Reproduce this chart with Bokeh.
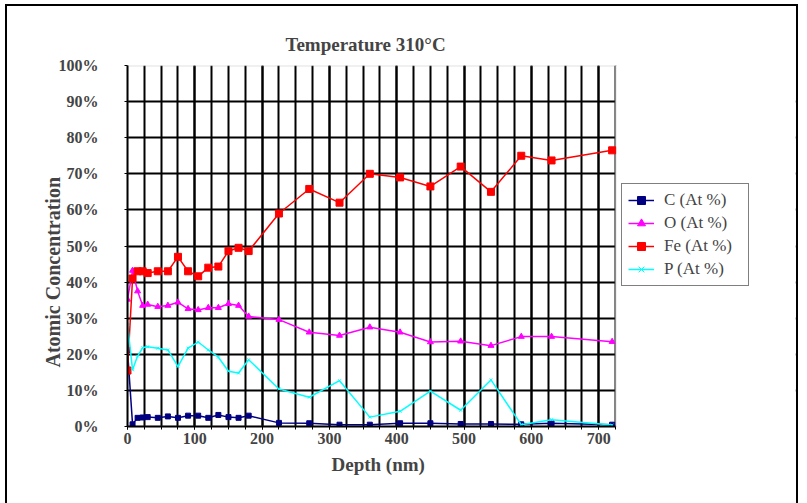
from bokeh.plotting import figure
from bokeh.models import (Range1d, SingleIntervalTicker, FixedTicker, PrintfTickFormatter,
                          Legend, LegendItem, BoxAnnotation, Title)
from bokeh.embed import file_html
from bokeh.resources import INLINE

# ---- data ----
depth = [0, 7.5, 15, 22.5, 30, 45, 60, 75, 90, 105, 120, 135, 150, 165, 180,
         225, 270, 315, 360, 405, 450, 495, 540, 585, 630, 720]
c_at = [21.2, 0.6, 2.4, 2.5, 2.6, 2.4, 2.8, 2.4, 3.0, 3.0, 2.4, 3.2, 2.6, 2.4, 3.0,
        1.0, 0.9, 0.5, 0.5, 0.9, 0.9, 0.7, 0.7, 0.6, 0.9, 0.5]
o_at = [35.2, 43.2, 37.5, 33.5, 33.8, 33.2, 33.5, 34.4, 32.6, 32.3, 32.9, 32.9, 34.0, 33.5, 30.5,
        29.6, 26.1, 25.2, 27.5, 26.1, 23.4, 23.6, 22.4, 24.9, 24.9, 23.5]
fe_at = [15.5, 41.0, 43.0, 43.0, 42.5, 43.0, 43.0, 47.0, 43.0, 41.6, 44.0, 44.3, 48.6, 49.5, 48.6,
         59.0, 65.8, 62.0, 70.0, 69.0, 66.5, 72.0, 65.0, 75.0, 73.7, 76.5]
p_at = [28.4, 15.7, 19.5, 21.8, 22.1, 21.7, 21.2, 16.6, 21.7, 23.4, 21.2, 19.2, 15.3, 14.8, 18.5,
        10.4, 8.1, 12.7, 2.6, 4.2, 9.8, 4.5, 12.9, 0.5, 1.9, 0.4]

series_names = ["C (At %)", "O (At %)", "Fe (At %)", "P (At %)"]
y_ticks = [0, 10, 20, 30, 40, 50, 60, 70, 80, 90, 100]
x_max = 725
y_max = 100
x_major_step = 100
x_minor_count = 4
title_text = "Temperature 310°C"
x_label = "Depth (nm)"
y_label = "Atomic Concentration"

FONT = "Liberation Serif"

# layout (pixels)
W, H = 807, 503
PLOT_L, PLOT_R, PLOT_T, PLOT_B = 127, 615, 65, 426   # visible plot area
FRAME_R = 795                                          # frame extends under the legend

# outer chart-area border drawn as CSS background lines behind a transparent canvas border
border_css = {
    "background-color": "white",
    "background-image": "linear-gradient(black, black), linear-gradient(black, black), linear-gradient(black, black)",
    "background-size": "2px 520px, 792px 2px, 2px 520px",
    "background-position": "5px 4px, 5px 4px, 796px 4px",
    "background-repeat": "no-repeat",
}

x_end = x_max * (FRAME_R - PLOT_L) / (PLOT_R - PLOT_L)

p = figure(width=W, height=H, output_backend="svg", toolbar_location=None,
           x_range=Range1d(0, x_end), y_range=Range1d(0, y_max),
           min_border_left=PLOT_L, min_border_right=W - FRAME_R,
           min_border_top=PLOT_T, min_border_bottom=H - PLOT_B,
           background_fill_color="white", border_fill_alpha=0, styles=border_css)
p.outline_line_color = None

# title (left-aligned with an offset so it is centred over the visible plot area)
p.title.text = title_text
p.title.align = "left"
p.title.offset = 158
p.title.text_font = FONT
p.title.text_font_size = "19px"
p.title.text_font_style = "bold"
p.title.standoff = 21

# x axis
p.xaxis.ticker = SingleIntervalTicker(interval=x_major_step, num_minor_ticks=x_minor_count)
p.xaxis.bounds = (0, x_max)
p.xaxis.major_label_text_font = FONT
p.xaxis.major_label_text_font_style = "bold"
p.xaxis.major_label_text_font_size = "16px"
p.xaxis.major_label_standoff = 3
p.xaxis.major_tick_out = 3
p.xaxis.major_tick_in = 0
p.xaxis.minor_tick_out = 3
p.xaxis.minor_tick_in = 0
p.xaxis.axis_line_width = 2
p.xaxis.minor_tick_line_color = "black"

xt = Title(text=x_label, align="left", offset=204, text_font=FONT,
           text_font_style="bold", text_font_size="19px", standoff=10)
p.add_layout(xt, "below")

# y axis
p.yaxis.ticker = FixedTicker(ticks=y_ticks)
p.yaxis.formatter = PrintfTickFormatter(format="%d%%")
p.yaxis.major_label_text_font = FONT
p.yaxis.major_label_text_font_style = "bold"
p.yaxis.major_label_text_font_size = "16px"
p.yaxis.major_label_standoff = 26
p.yaxis.major_tick_out = 3
p.yaxis.major_tick_in = 0
p.yaxis.minor_tick_line_color = None
p.yaxis.axis_line_width = 2

yt = Title(text=y_label, align="left", offset=59, text_font=FONT,
           text_font_style="bold", text_font_size="20px", standoff=-16)
p.add_layout(yt, "left")

# grids
p.xgrid.ticker = SingleIntervalTicker(interval=x_major_step, num_minor_ticks=x_minor_count)
p.xgrid.grid_line_color = "black"
p.xgrid.grid_line_width = 2
p.xgrid.minor_grid_line_color = "black"
p.xgrid.minor_grid_line_width = 2
p.ygrid.ticker = FixedTicker(ticks=y_ticks)
p.ygrid.grid_line_color = "black"
p.ygrid.grid_line_width = 2

# white cover for the part of the frame right of the plot area, then the plot-area outline
p.add_layout(BoxAnnotation(left=x_max, fill_color="white", fill_alpha=1,
                           line_alpha=0, level="underlay"))
p.add_layout(BoxAnnotation(left=0, right=x_max, bottom=0, top=y_max, fill_alpha=0,
                           line_color="#9a9a9a", line_width=2, level="underlay"))

# series
styles = [
    (c_at, "#000080", "square", 5, 1.5),
    (o_at, "#FF00FF", "triangle", 6, 1.5),
    (fe_at, "#FF0000", "square", 7, 1.5),
    (p_at, "#00FFFF", "x", 4, 1.5),
]
items = []
for name, (vals, col, mk, sz, lw) in zip(series_names, styles):
    ln = p.line(depth, vals, line_color=col, line_width=lw)
    sc = p.scatter(depth, vals, marker=mk, size=sz, fill_color=col, line_color=col)
    items.append(LegendItem(label=name, renderers=[ln, sc]))

legend = Legend(items=items, location=(494, 140))
legend.label_text_font = FONT
legend.label_text_font_size = "17px"
legend.border_line_color = "black"
legend.border_line_width = 1.5
legend.padding = 6
legend.spacing = 3
legend.margin = 0
legend.glyph_width = 26
legend.glyph_height = 20
legend.label_height = 20
legend.label_width = 78
legend.label_standoff = 10
legend.background_fill_color = "white"
legend.background_fill_alpha = 1
p.add_layout(legend, "center")

open("out.html", "w").write(file_html(p, INLINE))
